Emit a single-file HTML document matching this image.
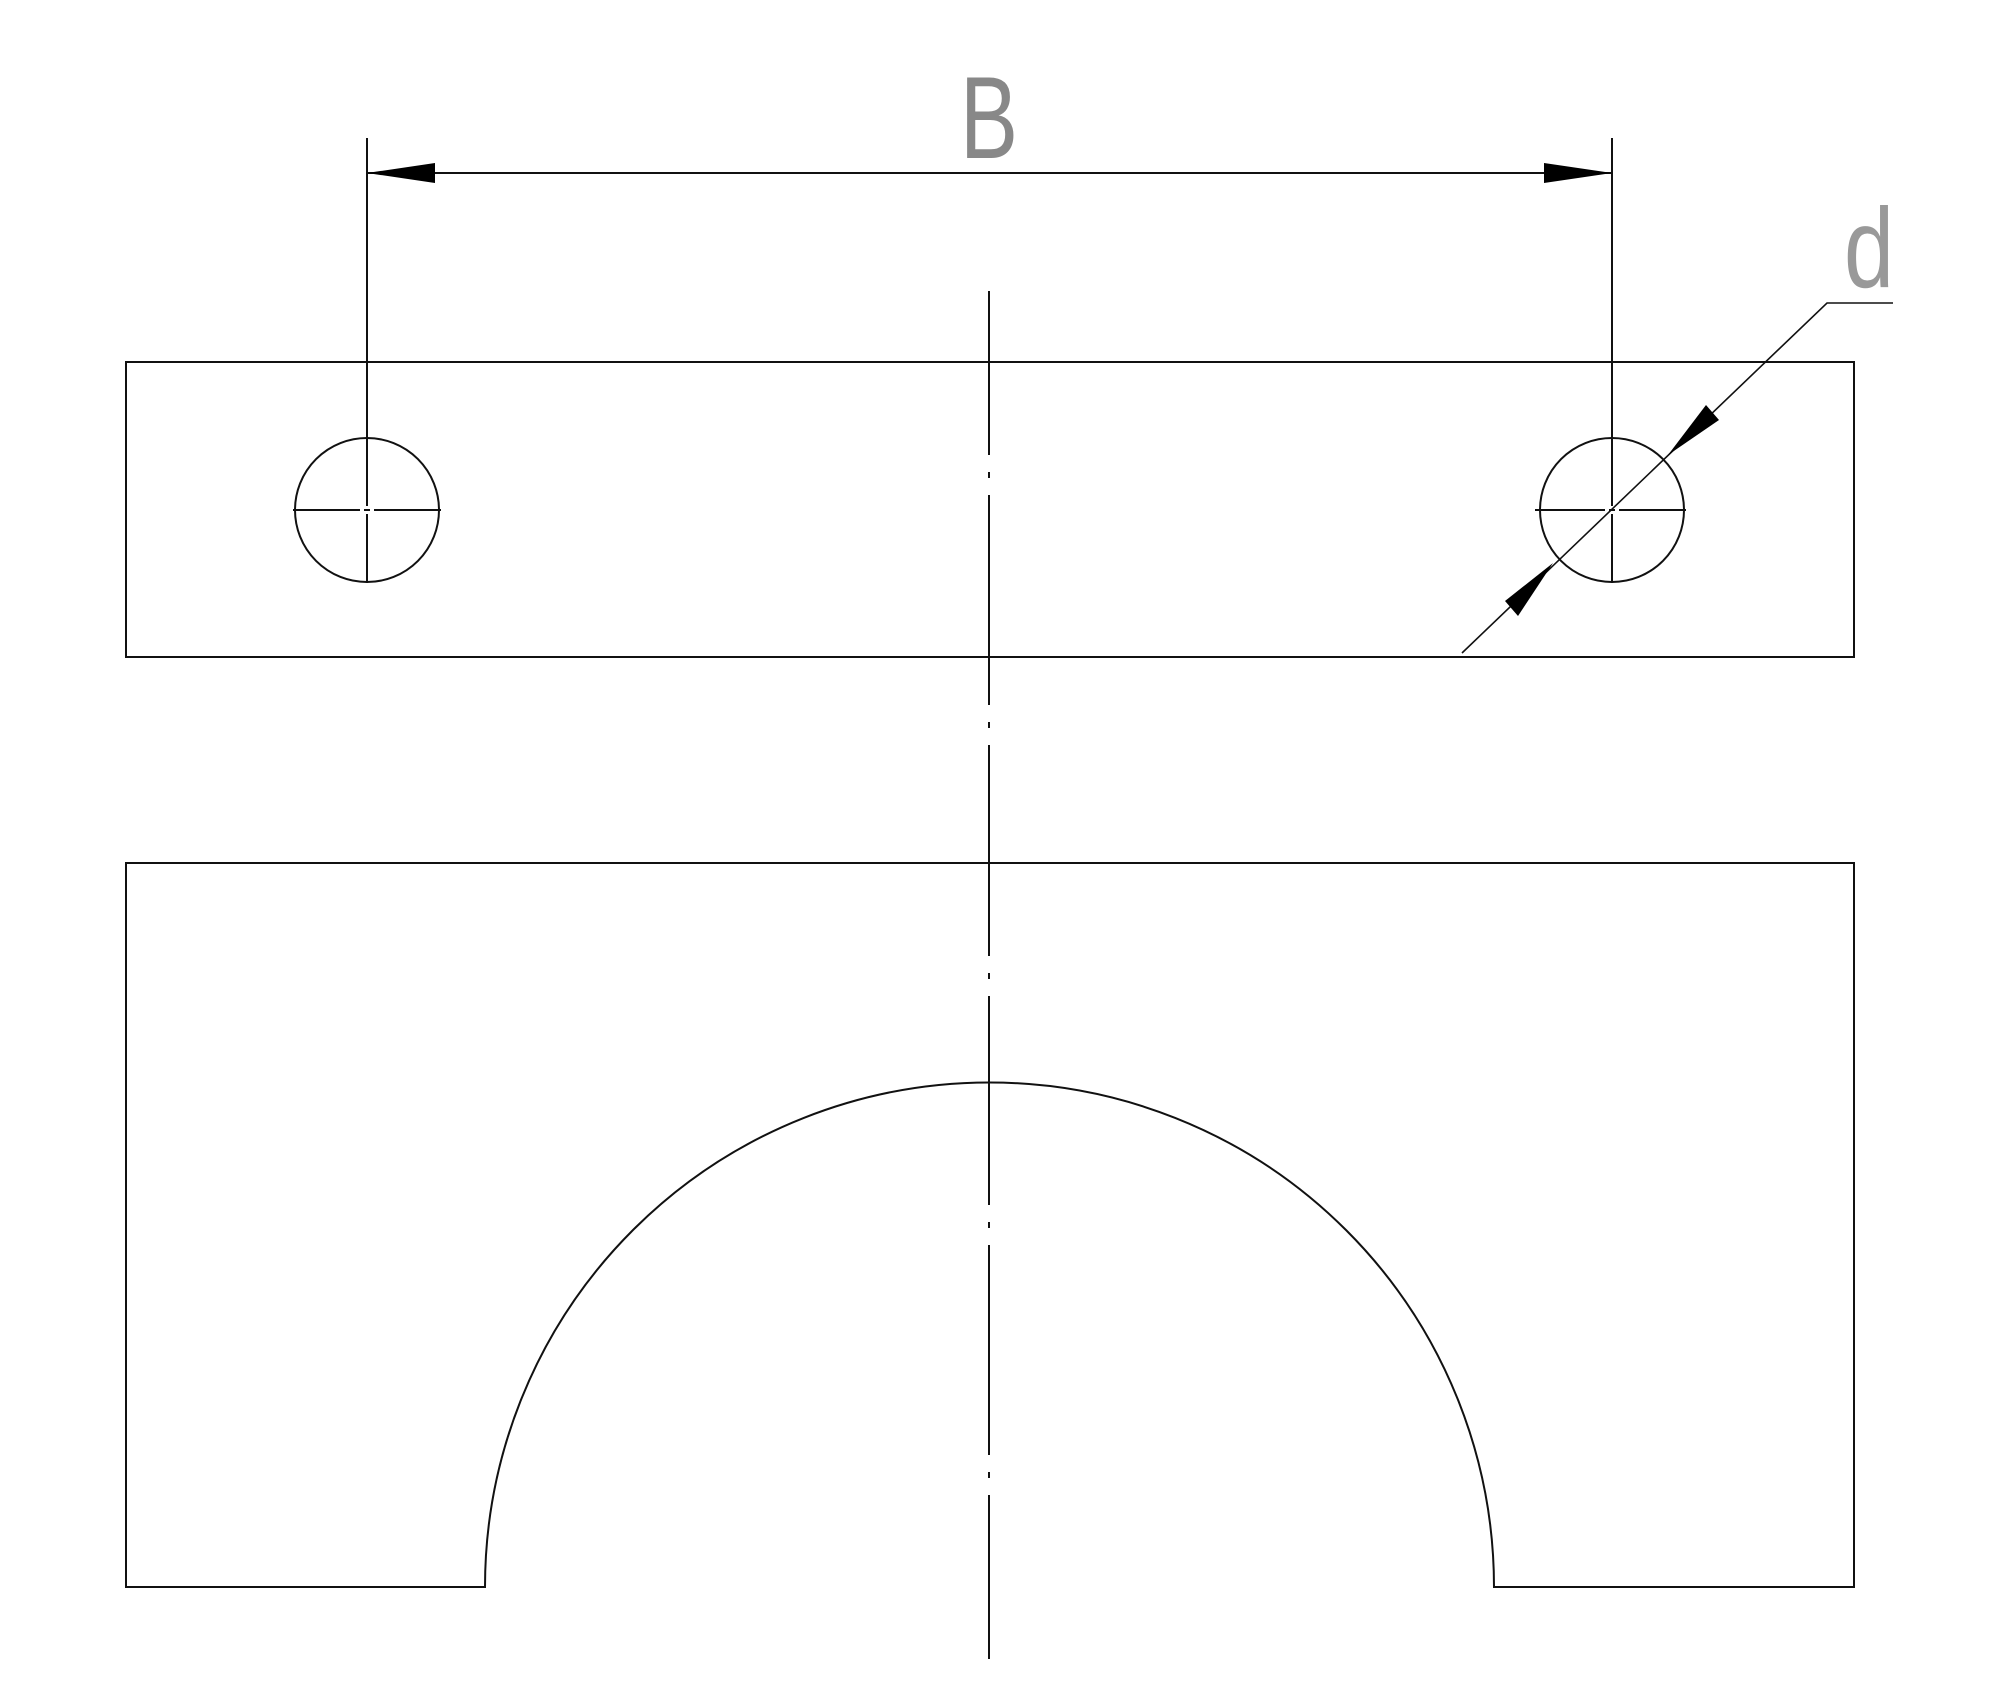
<!DOCTYPE html>
<html><head><meta charset="utf-8"><style>html,body{margin:0;padding:0;background:#fff}svg{display:block}</style></head>
<body>
<svg width="2000" height="1707" viewBox="0 0 2000 1707" xmlns="http://www.w3.org/2000/svg">
<g stroke="#111" stroke-width="2" fill="none">
  <rect x="126" y="362" width="1728" height="295"/>
  <path d="M126 863 H1854 V1587 H1494 A504 504 0 0 0 485 1587 H126 Z"/>
  <circle cx="367" cy="510" r="72"/>
  <circle cx="1612" cy="510" r="72"/>
  <path d="M293 510 H360 M364 510 H370 M374 510 H441"/>
  <path d="M367 138 V506 M367 514 V583"/>
  <path d="M1535 510 H1605 M1609 510 H1615 M1619 510 H1686"/>
  <path d="M1612 138 V506 M1612 514 V583"/>
  <line x1="367" y1="173" x2="1612" y2="173"/>
  <path d="M989 291 V455 M989 472 V478 M989 495 V705 M989 722 V728 M989 745 V956 M989 973 V979 M989 996 V1205 M989 1222 V1228 M989 1245 V1455 M989 1472 V1478 M989 1495 V1659"/>
  <path d="M1462 653 L1827 303 H1893" stroke-width="1.6"/>
</g>
<g fill="#000">
  <polygon points="367,173 435,163 435,183"/>
  <polygon points="1612,173 1544,163 1544,183"/>
  <polygon points="1668,455 1706,405 1719,420"/>
  <polygon points="1553,563 1505,601 1518,616"/>
</g>
<text x="960" y="158" font-family="Liberation Sans, sans-serif" font-size="117" fill="#888" textLength="58" lengthAdjust="spacingAndGlyphs">B</text>
<text x="1844" y="287" font-family="Liberation Sans, sans-serif" font-size="113" fill="#999" textLength="50" lengthAdjust="spacingAndGlyphs">d</text>
</svg>
</body></html>
